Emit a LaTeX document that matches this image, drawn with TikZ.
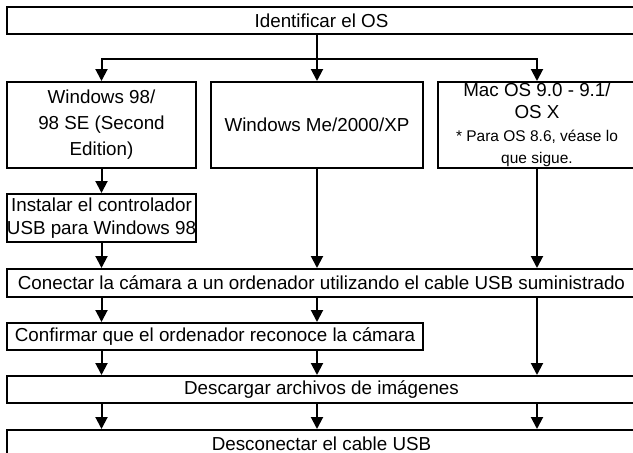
\documentclass[tikz,border=0pt]{standalone}
\usepackage{fontspec}
\setmainfont{Liberation Sans}
\usetikzlibrary{arrows.meta}

\tikzset{
  box/.style={draw, line width=2pt, inner sep=0pt, align=center,
    font=\fontsize{18.8}{26}\selectfont},
  arr/.style={line width=2pt, -{Triangle[width=12pt,length=12pt]}},
  link/.style={line width=2pt}
}
\newcommand{\notefont}{\fontsize{15.5}{17.5}\selectfont}

\begin{document}
\begin{tikzpicture}[x=1pt,y=-1pt]
\useasboundingbox (0,0) rectangle (633,453);

% steps
\node[box, minimum width=629pt, minimum height=27pt] (os) at (321.5,20.5) {Identificar el OS};

\node[box, minimum width=189pt, minimum height=86pt] (win98) at (101.5,125)
  {Windows 98/\\98 SE (Second\\Edition)};
\node[box, minimum width=212pt, minimum height=86pt] (winme) at (317,125)
  {Windows Me/2000/XP};
\node[box, minimum width=198pt, minimum height=86pt, inner ysep=-3pt,
  font=\fontsize{18.8}{22}\selectfont] (mac) at (537,125)
  {Mac OS 9.0 - 9.1/\\OS X\\[1pt]\notefont * Para OS 8.6, véase lo\\\notefont que sigue.};

\node[box, minimum width=189pt, minimum height=48pt, font=\fontsize{18.8}{23}\selectfont] (usbdrv) at (101.5,218)
  {Instalar el controlador\\USB para Windows 98};

\node[box, minimum width=629pt, minimum height=28pt] (conectar) at (321.5,283)
  {Conectar la cámara a un ordenador utilizando el cable USB suministrado};
\node[box, minimum width=416pt, minimum height=27pt] (confirmar) at (215,336.5)
  {Confirmar que el ordenador reconoce la cámara};
\node[box, minimum width=629pt, minimum height=27pt] (descargar) at (321.5,389.5)
  {Descargar archivos de imágenes};
\node[box, minimum width=629pt, minimum height=27pt] (desconectar) at (321.5,443.5)
  {Desconectar el cable USB};

% branches from the OS
\draw[link] (os.south -| winme) -- ++(0,24) coordinate (split);
\draw[arr] (split) -| (win98.north);
\draw[arr] (split) -- (winme.north);
\draw[arr] (split) -| (mac.north);

\draw[arr] (win98.south) -- (usbdrv.north);
\draw[arr] (usbdrv.south) -- (usbdrv.south |- conectar.north);
\draw[arr] (winme.south) -- (winme.south |- conectar.north);
\draw[arr] (mac.south) -- (mac.south |- conectar.north);

\foreach \col in {win98,winme} {
  \draw[arr] (conectar.south -| \col) -- (confirmar.north -| \col);
  \draw[arr] (confirmar.south -| \col) -- (descargar.north -| \col);
}
\draw[arr] (conectar.south -| mac) -- (descargar.north -| mac);

\foreach \col in {win98,winme,mac}
  \draw[arr] (descargar.south -| \col) -- (desconectar.north -| \col);
\end{tikzpicture}
\end{document}
